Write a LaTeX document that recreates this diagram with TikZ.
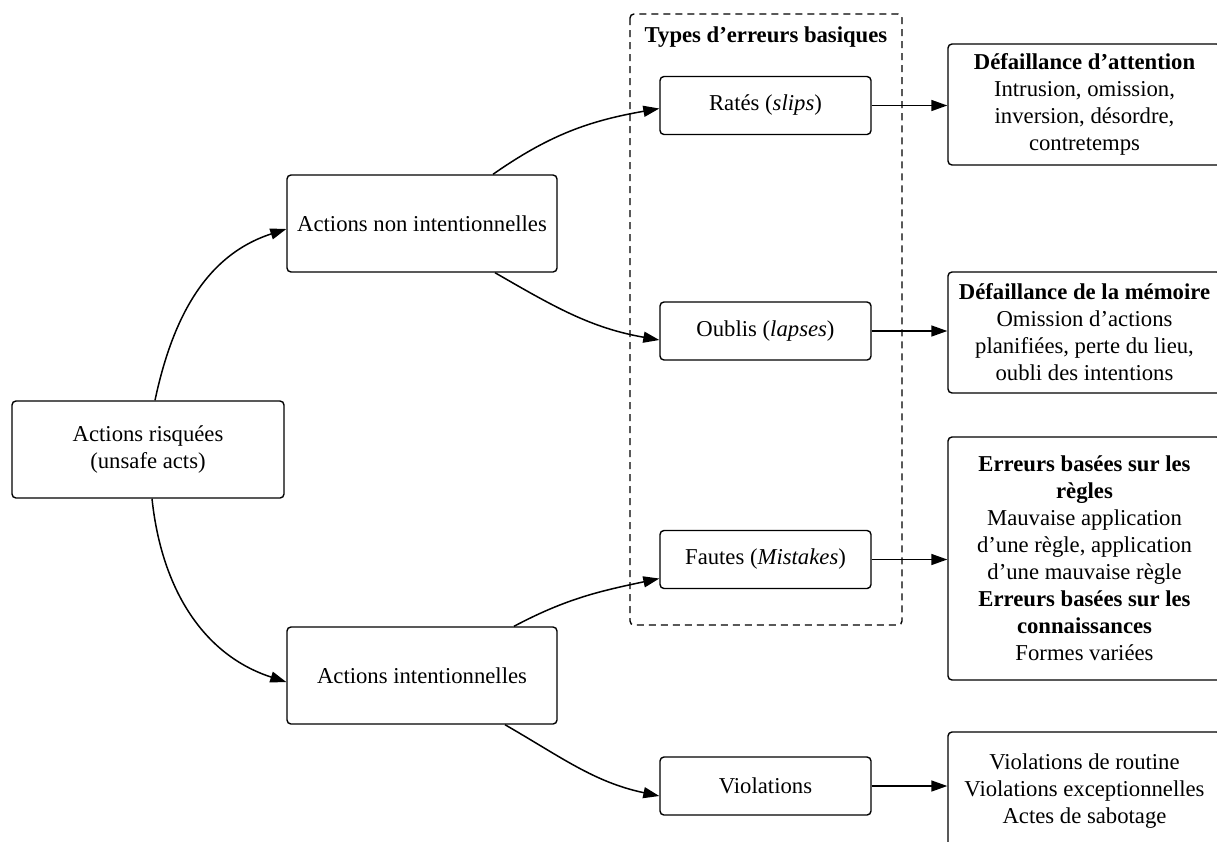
\documentclass[tikz,border=0pt]{standalone}
\usepackage{fontspec}
\setmainfont{LiberationSerif}[Extension=.ttf, UprightFont=*-Regular, BoldFont=*-Bold, ItalicFont=*-Italic, BoldItalicFont=*-BoldItalic]
\usetikzlibrary{arrows.meta}
\tikzset{
  box/.style={draw, rounded corners=4pt, line width=1.4pt, align=center, inner sep=0pt},
  conn/.style={line width=1.5pt, -{Triangle[length=16pt,width=11pt]}},
  grp/.style={draw, dashed, dash pattern=on 7pt off 5pt, line width=1.4pt, rounded corners=4pt}
}
\begin{document}
\begin{tikzpicture}[x=1pt,y=1pt,font=\fontsize{22.7}{27}\selectfont]
\useasboundingbox (0,0) rectangle (1217,-841);
% dashed group
\draw[grp] (630,-14) rectangle (902,-625);
\node[font=\fontsize{22.7}{27}\selectfont\bfseries] (title) at (766,-37) {Types d’erreurs basiques};
% left boxes
\node[box, minimum width=272, minimum height=97] (risk) at (148,-449.5) {Actions risquées\\(unsafe acts)};
\node[box, minimum width=270, minimum height=97] (nonint) at (422,-223.5) {Actions non intentionnelles};
\node[box, minimum width=270, minimum height=97] (int) at (422,-675.5) {Actions intentionnelles};
% middle boxes
\node[box, minimum width=211, minimum height=58] (rates) at (765.5,-105.5) {Ratés (\textit{slips})};
\node[box, minimum width=211, minimum height=58] (oublis) at (765.5,-331) {Oublis (\textit{lapses})};
\node[box, minimum width=211, minimum height=58] (fautes) at (765.5,-559.5) {Fautes (\textit{Mistakes})};
\node[box, minimum width=211, minimum height=58] (viol) at (765.5,-786) {Violations};
% right boxes
\node[box, minimum width=273, minimum height=121] (att) at (1084.5,-104.5) {\textbf{Défaillance d’attention}\\Intrusion, omission,\\inversion, désordre,\\contretemps};
\node[box, minimum width=273, minimum height=121] (mem) at (1084.5,-332.5) {\textbf{Défaillance de la mémoire}\\Omission d’actions\\planifiées, perte du lieu,\\oubli des intentions};
\node[box, minimum width=273, minimum height=243] (err) at (1084.5,-558.5) {\textbf{Erreurs basées sur les}\\\textbf{règles}\\Mauvaise application\\d’une règle, application\\d’une mauvaise règle\\\textbf{Erreurs basées sur les}\\\textbf{connaissances}\\Formes variées};
\node[box, minimum width=273, minimum height=118] (vio2) at (1084.5,-791) {Violations de routine\\Violations exceptionnelles\\Actes de sabotage};
% curved connectors
\draw[conn] ([xshift=7pt]risk.north) to[out=78, in=198] ([yshift=-5.5pt]nonint.west);
\draw[conn] ([xshift=4pt]risk.south) to[out=-84, in=162] ([yshift=-6.5pt]int.west);
\draw[conn] ([xshift=71pt]nonint.north) to[out=35, in=190] ([yshift=-3pt]rates.west);
\draw[conn] ([xshift=73pt]nonint.south) to[out=-30, in=170] ([yshift=-9pt]oublis.west);
\draw[conn] ([xshift=92pt]int.north) to[out=28, in=192] ([yshift=-19pt]fautes.west);
\draw[conn] ([xshift=83pt]int.south) to[out=-30, in=168] ([yshift=-10pt]viol.west);
% straight connectors
\draw[conn] (rates.east) -- (rates.east -| att.west);
\draw[conn] (oublis.east) -- (oublis.east -| mem.west);
\draw[conn] (fautes.east) -- (fautes.east -| err.west);
\draw[conn] (viol.east) -- (viol.east -| vio2.west);
\end{tikzpicture}
\end{document}
